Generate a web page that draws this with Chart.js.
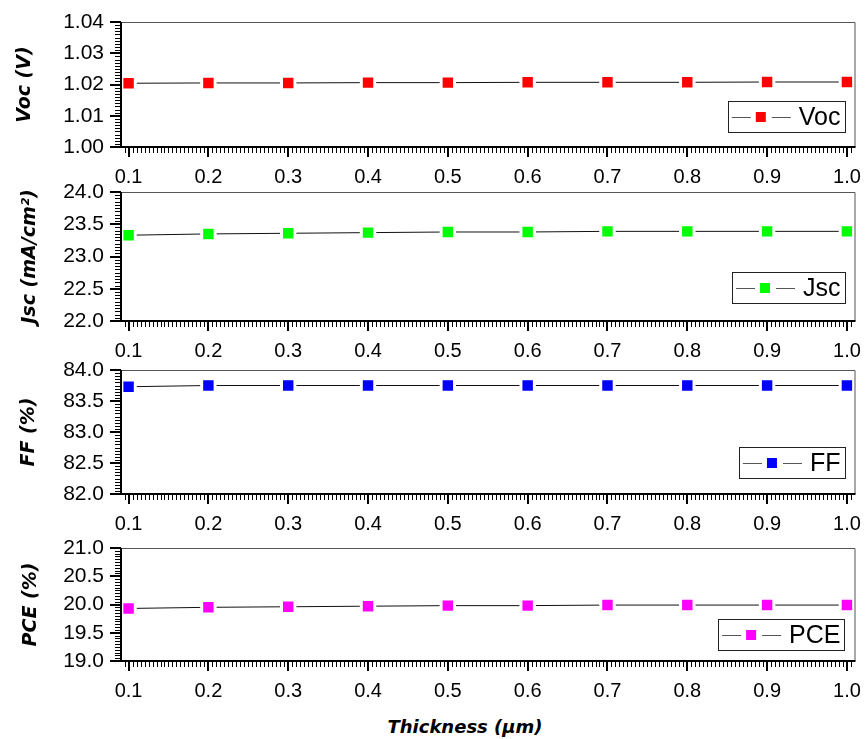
<!DOCTYPE html>
<html>
<head>
<meta charset="utf-8">
<script src="https://cdn.jsdelivr.net/npm/chart.js@4.4.1/dist/chart.umd.min.js"></script>
<style>
  body { margin: 0; background: #fff; width: 867px; height: 739px; position: relative; overflow: hidden; }
  canvas { position: absolute; left: 0; }
  #xtitle {
    position: absolute; left: 315px; width: 300px; top: 716px; text-align: center;
    font: oblique bold 18px "DejaVu Sans", sans-serif; color: #000;
  }
</style>
</head>
<body>
<canvas id="voc"></canvas>
<canvas id="jsc"></canvas>
<canvas id="ff"></canvas>
<canvas id="pce"></canvas>
<div id="xtitle">Thickness (µm)</div>
<script>
  // data
  const thickness = [0.1, 0.2, 0.3, 0.4, 0.5, 0.6, 0.7, 0.8, 0.9, 1.0];
  const vocValues = [1.0204, 1.0205, 1.0205, 1.0206, 1.0206, 1.0207, 1.0207, 1.0207, 1.0208, 1.0208];
  const jscValues = [23.33, 23.35, 23.36, 23.37, 23.38, 23.38, 23.39, 23.39, 23.39, 23.39];
  const ffValues = [83.73, 83.75, 83.75, 83.75, 83.75, 83.75, 83.75, 83.75, 83.75, 83.75];
  const pceValues = [19.93, 19.95, 19.96, 19.97, 19.98, 19.98, 19.99, 19.99, 19.99, 19.99];

  const xTicks = [0.1, 0.2, 0.3, 0.4, 0.5, 0.6, 0.7, 0.8, 0.9, 1.0];
  const vocTicks = [1.00, 1.01, 1.02, 1.03, 1.04];
  const jscTicks = [22.0, 22.5, 23.0, 23.5, 24.0];
  const ffTicks = [82.0, 82.5, 83.0, 83.5, 84.0];
  const pceTicks = [19.0, 19.5, 20.0, 20.5, 21.0];

  Chart.defaults.font.family = '"Liberation Sans", Arial, sans-serif';
  Chart.defaults.color = '#000';

  const X_MIN = 0.0905, X_MAX = 1.0095, X_MINOR = 0.005;
  const PAD_TOP = 14, X_AXIS_H = 44, Y_AXIS_W = 121, PAD_RIGHT = 9;

  const panels = [
    { id: 'voc', name: 'Voc', title: 'Voc (V)', values: vocValues, ticks: vocTicks, dec: 2, minor: 0.001,
      color: '#ff0000', top: 22, bottom: 147, legendGap: 15, titlePad: 14 },
    { id: 'jsc', name: 'Jsc', title: 'Jsc (mA/cm²)', values: jscValues, ticks: jscTicks, dec: 1, minor: 0.05,
      color: '#00ff00', top: 192, bottom: 321, legendGap: 18, titlePad: 19 },
    { id: 'ff', name: 'FF', title: 'FF (%)', values: ffValues, ticks: ffTicks, dec: 1, minor: 0.05,
      color: '#0000ff', top: 370, bottom: 494, legendGap: 16, titlePad: 18 },
    { id: 'pce', name: 'PCE', title: 'PCE (%)', values: pceValues, ticks: pceTicks, dec: 1, minor: 0.05,
      color: '#ff00ff', top: 548, bottom: 661, legendGap: 11, titlePad: 20 }
  ];

  function tickLine(ctx, x1, y1, x2, y2) {
    ctx.moveTo(x1, y1);
    ctx.lineTo(x2, y2);
  }

  // ticks, frame and the boxed legend
  const decorPlugin = {
    id: 'decor',
    afterDatasetsDraw(chart, args, opts) {
      const { ctx, chartArea: a, scales } = chart;
      const xs = scales.x, ys = scales.y;
      ctx.save();
      ctx.strokeStyle = '#000';

      // minor ticks
      ctx.lineWidth = 1;
      ctx.beginPath();
      for (let i = Math.ceil(X_MIN / X_MINOR); i * X_MINOR <= X_MAX + 1e-9; i++) {
        const px = Math.round(xs.getPixelForValue(i * X_MINOR)) + 0.5;
        tickLine(ctx, px, a.bottom, px, a.bottom + 6);
      }
      const n = Math.round((ys.max - ys.min) / opts.minor);
      for (let i = 0; i <= n; i++) {
        const py = Math.round(ys.getPixelForValue(ys.min + i * opts.minor)) + 0.5;
        tickLine(ctx, a.left, py, a.left - 6, py);
      }
      ctx.stroke();

      // major ticks
      ctx.lineWidth = 2;
      ctx.beginPath();
      xs.ticks.forEach(t => {
        const px = Math.round(xs.getPixelForValue(t.value));
        tickLine(ctx, px, a.bottom, px, a.bottom + 10);
      });
      ys.ticks.forEach(t => {
        const py = Math.round(ys.getPixelForValue(t.value));
        tickLine(ctx, a.left, py, a.left - 11, py);
      });
      ctx.stroke();

      // frame
      ctx.strokeStyle = '#555';
      ctx.lineWidth = 1;
      ctx.beginPath();
      ctx.moveTo(a.left, a.top + 0.5);
      ctx.lineTo(a.right + 0.5, a.top + 0.5);
      ctx.lineTo(a.right + 0.5, a.bottom);
      ctx.stroke();
      ctx.strokeStyle = '#000';
      ctx.lineWidth = 2;
      ctx.beginPath();
      ctx.moveTo(a.left, a.top);
      ctx.lineTo(a.left, a.bottom);
      ctx.lineTo(a.right + 1, a.bottom);
      ctx.stroke();

      // legend box
      const ds = chart.data.datasets[0];
      ctx.font = '25px "Liberation Sans", Arial, sans-serif';
      const tw = ctx.measureText(ds.label).width;
      const w = 4 + 19 + 5 + 10 + 6 + 19 + 8 + tw + 4;
      const h = 31;
      const right = a.right - 10, bottom = a.bottom - opts.legendGap;
      const left = right - w, top = bottom - h;
      ctx.fillStyle = '#fff';
      ctx.fillRect(left, top, w, h);
      ctx.strokeStyle = '#222';
      ctx.lineWidth = 1;
      ctx.strokeRect(Math.round(left) + 0.5, Math.round(top) + 0.5, Math.round(w), h);
      const cy = Math.round(top + h / 2) + 0.5;
      ctx.strokeStyle = '#555';
      ctx.beginPath();
      tickLine(ctx, left + 4, cy, left + 23, cy);
      tickLine(ctx, left + 44, cy, left + 63, cy);
      ctx.stroke();
      ctx.fillStyle = ds.pointBackgroundColor;
      ctx.fillRect(left + 28, cy - 5.5, 10, 10);
      ctx.fillStyle = '#000';
      ctx.textBaseline = 'middle';
      ctx.fillText(ds.label, left + 71, cy + 1);
      ctx.restore();
    }
  };

  panels.forEach(p => {
    const canvas = document.getElementById(p.id);
    const ph = p.bottom - p.top;
    canvas.width = 867;
    canvas.height = PAD_TOP + ph + X_AXIS_H;
    canvas.style.top = (p.top - PAD_TOP) + 'px';

    new Chart(canvas, {
      type: 'line',
      data: {
        datasets: [{
          label: p.name,
          data: thickness.map((x, i) => ({ x, y: p.values[i] })),
          borderColor: '#111',
          borderWidth: 1,
          tension: 0,
          pointStyle: 'rect',
          pointRadius: 9.5,
          pointHoverRadius: 9.5,
          pointBackgroundColor: p.color,
          pointBorderColor: '#fff',
          pointBorderWidth: 3,
          clip: 10
        }]
      },
      options: {
        responsive: false,
        animation: false,
        events: [],
        layout: { padding: { top: PAD_TOP, right: PAD_RIGHT, left: 0, bottom: 0 } },
        plugins: {
          legend: { display: false },
          tooltip: { enabled: false },
          decor: { minor: p.minor, legendGap: p.legendGap }
        },
        scales: {
          x: {
            type: 'linear',
            min: X_MIN,
            max: X_MAX,
            afterBuildTicks: s => { s.ticks = xTicks.map(v => ({ value: v })); },
            afterFit: s => {
              s.height = X_AXIS_H;
              s.paddingLeft = 0;
              s.paddingRight = 0;
            },
            ticks: {
              callback: v => v.toFixed(1),
              font: { size: 20 },
              color: '#000',
              padding: 18,
              maxRotation: 0,
              autoSkip: false
            },
            grid: { display: true, drawOnChartArea: false, drawTicks: false, color: 'rgba(0,0,0,0)' },
            border: { display: false }
          },
          y: {
            min: p.ticks[0],
            max: p.ticks[p.ticks.length - 1],
            afterBuildTicks: s => { s.ticks = p.ticks.map(v => ({ value: v })); },
            afterFit: s => {
              s.width = Y_AXIS_W;
              s.paddingTop = 0;
              s.paddingBottom = 0;
            },
            ticks: {
              callback: v => v.toFixed(p.dec),
              font: { size: 21 },
              color: '#000',
              padding: 17,
              autoSkip: false
            },
            grid: { display: true, drawOnChartArea: false, drawTicks: false, color: 'rgba(0,0,0,0)' },
            border: { display: false },
            title: {
              display: true,
              text: p.title,
              color: '#000',
              font: { family: '"DejaVu Sans", sans-serif', size: 19, weight: 'bold', style: 'oblique' },
              padding: { top: p.titlePad, bottom: 0 }
            }
          }
        }
      },
      plugins: [decorPlugin]
    });
  });
</script>
</body>
</html>
